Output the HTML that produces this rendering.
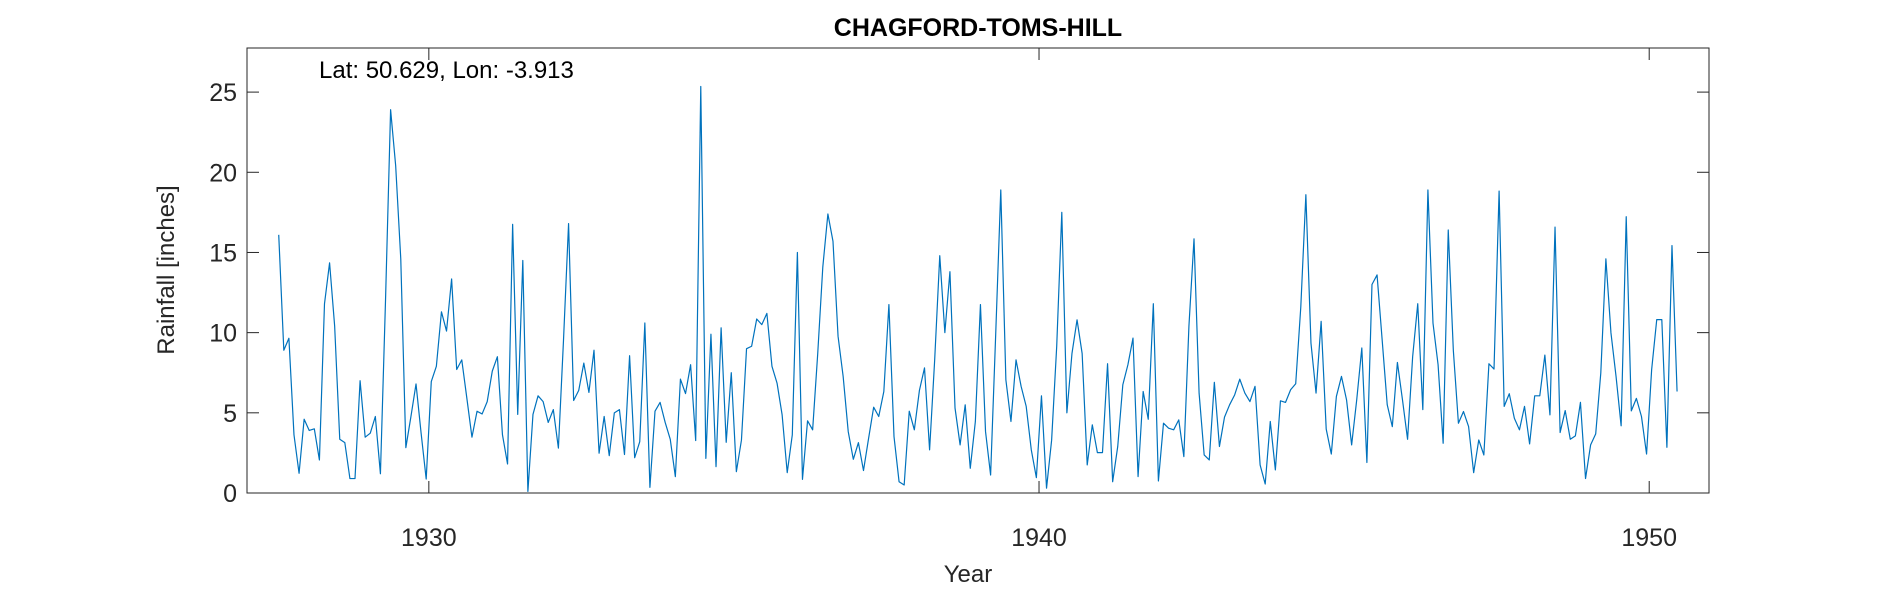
<!DOCTYPE html>
<html><head><meta charset="utf-8"><style>
html,body{margin:0;padding:0;background:#fff;}
svg{display:block;font-family:"Liberation Sans",Arial,sans-serif;}
</style></head><body>
<svg id="chart" width="1890" height="591" viewBox="0 0 1890 591">
<rect x="0" y="0" width="1890" height="591" fill="#fff"/>
<text x="978" y="36" text-anchor="middle" font-size="25" font-weight="bold" fill="#000">CHAGFORD-TOMS-HILL</text>
<g id="axes"></g>
<path id="series" fill="none" stroke="#0072BD" stroke-width="1.2" stroke-linejoin="round"/>
<text x="319" y="78" font-size="24" fill="#000">Lat: 50.629, Lon: -3.913</text>
<text x="968" y="582" text-anchor="middle" font-size="24" fill="#262626">Year</text>
<text transform="translate(174,270) rotate(-90)" text-anchor="middle" font-size="24" fill="#262626">Rainfall [inches]</text>
</svg>
<script>
const startYear = 1927.54;
const rainfall = [
16.1,8.9,9.65,3.63,1.23,4.6,3.9,4.0,2.06,11.8,14.35,10.4,3.35,3.14,0.9,0.9,7.0,3.48,3.73,4.77,1.2,12,23.9,20.4,14.6,2.83,4.77,6.8,3.73,0.87,6.95,7.9,11.3,10.1,13.35,7.7,8.3,5.9,3.48,5.1,4.93,5.7,7.6,8.5,3.63,1.81,
16.75,4.9,14.5,0.1,4.9,6.06,5.7,4.4,5.2,2.8,9.5,16.8,5.77,6.4,8.1,6.27,8.9,2.48,4.77,2.33,5.0,5.2,2.4,8.56,2.2,3.2,10.6,0.35,5.1,5.65,4.4,3.35,1.02,7.1,6.2,8.0,3.27,25.35,2.16,9.9,1.64,10.3,3.16,7.5,1.33,3.3,9.0,
9.15,10.85,10.5,11.2,7.9,6.85,4.87,1.27,3.63,15.0,0.85,4.5,3.94,8.7,14.1,17.4,15.7,9.77,7.27,3.83,2.1,3.14,1.4,3.4,5.35,4.77,6.33,11.75,3.52,0.7,0.5,5.1,3.94,6.4,7.8,2.69,8.3,14.8,10.0,13.8,5.3,3.0,5.5,1.54,4.46,11.75,3.83,1.12,
9.9,18.9,7.06,4.46,8.3,6.65,5.4,2.69,0.96,6.06,0.3,3.3,9.15,17.5,5.0,8.7,10.8,8.7,1.75,4.25,2.52,2.52,8.06,0.7,2.9,6.75,8.0,9.66,1.02,6.33,4.6,11.8,0.75,4.35,4.04,3.94,4.56,2.27,10.4,15.85,6.23,2.37,2.06,6.9,2.9,4.73,5.5,
6.12,7.1,6.23,5.7,6.65,1.75,0.56,4.46,1.44,5.75,5.65,6.44,6.81,11.6,18.6,9.35,6.23,10.7,3.98,2.43,6.02,7.27,5.81,3.0,5.81,9.04,1.9,13.0,13.6,9.56,5.5,4.14,8.14,5.81,3.35,8.5,11.8,5.2,18.9,10.6,8.0,3.1,16.4,8.9,4.35,5.08,4.14,
1.27,3.31,2.37,8.06,7.73,18.83,5.4,6.19,4.66,3.94,5.4,3.06,6.06,6.06,8.6,4.87,16.58,3.77,5.14,3.35,3.56,5.65,0.9,3.0,3.69,7.48,14.6,9.98,7.27,4.19,17.23,5.12,5.9,4.77,2.43,7.69,10.81,10.81,2.85,15.43,6.33
];
const xTicks = [1930, 1940, 1950];
const yTicks = [0, 5, 10, 15, 20, 25];
const xDomain = [1927.02, 1950.98];
const yDomain = [0, 27.75];

const L = 247, R = 1709, T = 48, B = 493;
function xs(v){ return L + (v - xDomain[0]) / (xDomain[1] - xDomain[0]) * (R - L); }
function ys(v){ return B - (v - yDomain[0]) / (yDomain[1] - yDomain[0]) * (B - T); }

const NS = "http://www.w3.org/2000/svg";
const axes = document.getElementById('axes');
function mk(tag, attrs){ const e = document.createElementNS(NS, tag); for (const k in attrs) e.setAttribute(k, attrs[k]); axes.appendChild(e); return e; }

const box = mk('rect', {x:L, y:T, width:R-L, height:B-T, fill:'none', stroke:'#262626', 'stroke-width':1});



const tl = 12;
yTicks.forEach(v => {
  const y = ys(v);
  const t1 = mk('line', {x1:L, x2:L+tl, y1:y, y2:y, stroke:'#262626', 'stroke-width':1});
  
  
  const t2 = mk('line', {x1:R, x2:R-tl, y1:y, y2:y, stroke:'#262626', 'stroke-width':1});
  
  
  const lb = mk('text', {x:L-10, y:y+9, 'text-anchor':'end', 'font-size':25, fill:'#262626'});
  lb.textContent = v;
  
  
});
xTicks.forEach(v => {
  const x = xs(v);
  const t1 = mk('line', {x1:x, x2:x, y1:B, y2:B-tl, stroke:'#262626', 'stroke-width':1});
  
  
  const t2 = mk('line', {x1:x, x2:x, y1:T, y2:T+tl, stroke:'#262626', 'stroke-width':1});
  
  
  const lb = mk('text', {x:x, y:546, 'text-anchor':'middle', 'font-size':25, fill:'#262626'});
  lb.textContent = v;
  
  
});

let d = '';
rainfall.forEach((v, i) => {
  const x = xs(startYear + i / 12), y = ys(v);
  d += (i ? 'L' : 'M') + x.toFixed(2) + ' ' + y.toFixed(2);
});
document.getElementById('series').setAttribute('d', d);
</script>
</body></html>
